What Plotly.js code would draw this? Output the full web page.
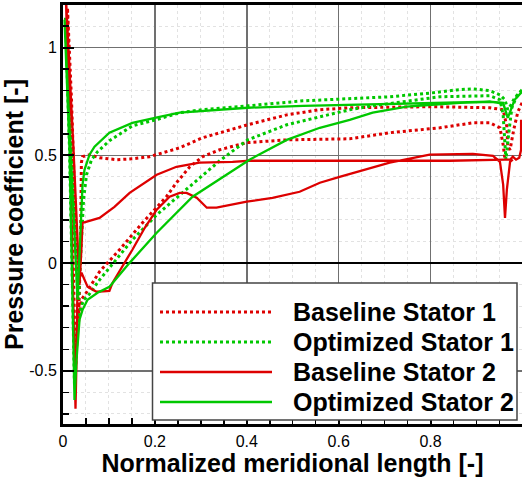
<!DOCTYPE html>
<html>
<head>
<meta charset="utf-8">
<script src="https://cdn.plot.ly/plotly-3.0.1.min.js"></script>
<style>html,body{margin:0;padding:0;background:#fff;}#chart{width:522px;height:477px;}</style>
</head>
<body>
<div id="chart"></div>
<script>
// ---- data ----
const seriesNames = ["Baseline Stator 1", "Optimized Stator 1", "Baseline Stator 2", "Optimized Stator 2"];

const bs1_x = [0.999,0.990,0.981,0.973,0.968,0.966,0.958,0.929,0.803,0.624,0.559,0.487,0.402,0.304,0.254,0.225,0.188,0.151,0.117,0.0795,0.0577,0.0425,0.040,0.038,0.034,0.0185,0.0098,0.0185,0.0272,0.0316,0.040,0.049,0.0795,0.123,0.173,0.225,0.247,0.276,0.304,0.341,0.400,0.487,0.624,0.711,0.820,0.892,0.929,0.951,0.958,0.962];
const bs1_y = [0.744,0.702,0.619,0.526,0.540,0.633,0.712,0.721,0.726,0.721,0.712,0.688,0.642,0.582,0.535,0.517,0.494,0.484,0.480,0.489,0.503,0.494,0.466,0.062,-0.263,0.758,1.185,0.387,-0.496,-0.310,-0.170,-0.143,-0.040,0.062,0.187,0.308,0.373,0.447,0.494,0.526,0.559,0.572,0.577,0.605,0.628,0.651,0.651,0.628,0.549,0.480];

const os1_x = [0.999,0.983,0.975,0.968,0.962,0.951,0.929,0.892,0.857,0.803,0.711,0.602,0.522,0.402,0.304,0.254,0.210,0.151,0.101,0.0752,0.0621,0.0512,0.0447,0.038,0.034,0.0054,0.0142,0.025,0.0316,0.0447,0.0534,0.0795,0.151,0.204,0.260,0.291,0.319,0.341,0.402,0.487,0.559,0.624,0.674,0.748,0.820,0.929,0.951,0.958,0.962,0.964,0.971,0.977,0.986,0.999];
const os1_y = [0.804,0.767,0.735,0.712,0.758,0.781,0.800,0.809,0.804,0.790,0.772,0.763,0.753,0.730,0.712,0.698,0.670,0.637,0.568,0.517,0.480,0.410,0.294,0.015,-0.170,1.139,0.526,-0.565,-0.263,-0.170,-0.156,-0.078,0.108,0.224,0.326,0.382,0.433,0.475,0.572,0.642,0.679,0.712,0.730,0.753,0.772,0.777,0.758,0.688,0.572,0.480,0.619,0.721,0.767,0.804];

const bs2_x = [0.997,0.997,0.993,0.986,0.979,0.973,0.962,0.842,0.624,0.406,0.369,0.297,0.247,0.204,0.145,0.112,0.0795,0.0577,0.0425,0.040,0.036,0.0229,0.0098,0.0060,0.0142,0.0207,0.0272,0.0294,0.0316,0.0403,0.0534,0.073,0.101,0.108,0.134,0.151,0.178,0.204,0.232,0.254,0.269,0.291,0.313,0.334,0.400,0.456,0.515,0.559,0.602,0.711,0.798,0.892,0.936,0.951,0.958,0.962,0.966,0.973,0.979];
const bs2_y = [0.665,0.526,0.489,0.480,0.494,0.480,0.480,0.475,0.475,0.475,0.470,0.466,0.447,0.410,0.326,0.261,0.210,0.196,0.187,0.062,-0.101,0.526,1.036,1.250,0.665,-0.078,-0.676,-0.449,-0.091,-0.045,-0.110,-0.133,-0.129,-0.091,0.001,0.062,0.164,0.248,0.308,0.326,0.326,0.303,0.257,0.257,0.285,0.303,0.331,0.373,0.400,0.466,0.503,0.507,0.498,0.470,0.364,0.210,0.340,0.470,0.480];

const os2_x = [0.999,0.983,0.975,0.968,0.964,0.958,0.929,0.803,0.624,0.522,0.402,0.254,0.210,0.151,0.101,0.0686,0.0577,0.0468,0.0425,0.038,0.0316,0.0033,0.0142,0.0207,0.025,0.0294,0.036,0.0425,0.0534,0.0752,0.101,0.145,0.204,0.282,0.348,0.406,0.487,0.559,0.624,0.674,0.748,0.803,0.864,0.929,0.958,0.968];
const os2_y = [0.795,0.758,0.712,0.674,0.702,0.744,0.749,0.744,0.735,0.730,0.721,0.698,0.679,0.651,0.605,0.540,0.503,0.433,0.363,0.108,-0.170,1.130,0.526,-0.170,-0.635,-0.449,-0.263,-0.217,-0.170,-0.138,-0.110,0.001,0.141,0.308,0.400,0.480,0.572,0.628,0.665,0.698,0.726,0.735,0.744,0.749,0.740,0.674];

const xTickVals = [0, 0.2, 0.4, 0.6, 0.8, 1];
const xTickText = ["0", "0.2", "0.4", "0.6", "0.8", "1"];
const yTickVals = [-0.5, 0, 0.5, 1];
const yTickText = ["-0.5", "0", "0.5", "1"];

// ---- styling ----
const RED = "#dd0000", GREEN = "#00c800";
const FONT = "Liberation Sans, Arial, Helvetica, sans-serif";
const series = [
  {x: bs1_x, y: bs1_y, color: RED, dash: "dot", width: 3},
  {x: os1_x, y: os1_y, color: GREEN, dash: "dot", width: 3},
  {x: bs2_x, y: bs2_y, color: RED, dash: "solid", width: 2.3},
  {x: os2_x, y: os2_y, color: GREEN, dash: "solid", width: 2.3}
];
const traces = series.map((s, i) => ({
  type: "scatter", mode: "lines", name: seriesNames[i],
  x: s.x, y: s.y, showlegend: false,
  line: {color: s.color, dash: s.dash, width: s.width, shape: "linear"}
}));

// pixel helpers for layout decorations (legend box)
const L = 63, T = 5, W = 459, H = 419;
const px = v => (v - L) / W;
const py = v => (T + H - v) / H;

const shapes = [{
  type: "rect", xref: "paper", yref: "paper", layer: "above",
  x0: px(152.5), x1: px(517), y0: py(420), y1: py(283),
  line: {color: "#444", width: 1.5}, fillcolor: "#ffffff"
}];
const annotations = [];
const rowY = [312, 342, 372, 402];
series.forEach((s, i) => {
  shapes.push({type: "line", xref: "paper", yref: "paper", layer: "above",
    x0: px(160), x1: px(272), y0: py(rowY[i]), y1: py(rowY[i]),
    line: {color: s.color, dash: s.dash, width: s.width}});
  annotations.push({xref: "paper", yref: "paper", x: px(291), y: py(rowY[i]),
    xanchor: "left", yanchor: "middle", showarrow: false, text: seriesNames[i],
    font: {family: FONT, size: 25, color: "#000", weight: "bold"}});
});

const axisCommon = {
  showline: true, linecolor: "#000", linewidth: 3,
  ticks: "inside", ticklen: 11, tickwidth: 2, tickcolor: "#000",
  showgrid: true, gridcolor: "#707070", gridwidth: 1.5,
  tickfont: {family: FONT, size: 16, color: "#000"},
  tickmode: "array"
};

const layout = {
  width: 522, height: 477,
  margin: {l: L, r: 0, t: T, b: 477 - T - H, pad: 0},
  paper_bgcolor: "#fff", plot_bgcolor: "#fff",
  showlegend: false,
  xaxis: Object.assign({}, axisCommon, {
    range: [0, 0.999], mirror: true, zeroline: false,
    tickvals: xTickVals, ticktext: xTickText, ticklabelstandoff: 1,
    minor: {dtick: 0.05, tick0: 0, ticks: "inside", ticklen: 6, tickwidth: 1.5, tickcolor: "#000",
            showgrid: true, gridcolor: "#e2e2e2", griddash: "dot", gridwidth: 1},
    title: {text: "Normalized meridional length [-]", standoff: 3,
            font: {family: FONT, size: 25, color: "#000", weight: "bold"}}
  }),
  yaxis: Object.assign({}, axisCommon, {
    range: [-0.747, 1.198], mirror: false,
    zeroline: true, zerolinecolor: "#000", zerolinewidth: 1.5,
    tickvals: yTickVals, ticktext: yTickText, ticklabelstandoff: 0,
    minor: {dtick: 0.1, tick0: 0, ticks: "inside", ticklen: 6, tickwidth: 1.5, tickcolor: "#000",
            showgrid: true, gridcolor: "#e2e2e2", griddash: "dot", gridwidth: 1},
    title: {text: "Pressure coefficient [-]", standoff: 0,
            font: {family: FONT, size: 25, color: "#000", weight: "bold"}}
  }),
  shapes: shapes,
  annotations: annotations
};

Plotly.newPlot("chart", traces, layout, {staticPlot: true, displayModeBar: false});
</script>
</body>
</html>
